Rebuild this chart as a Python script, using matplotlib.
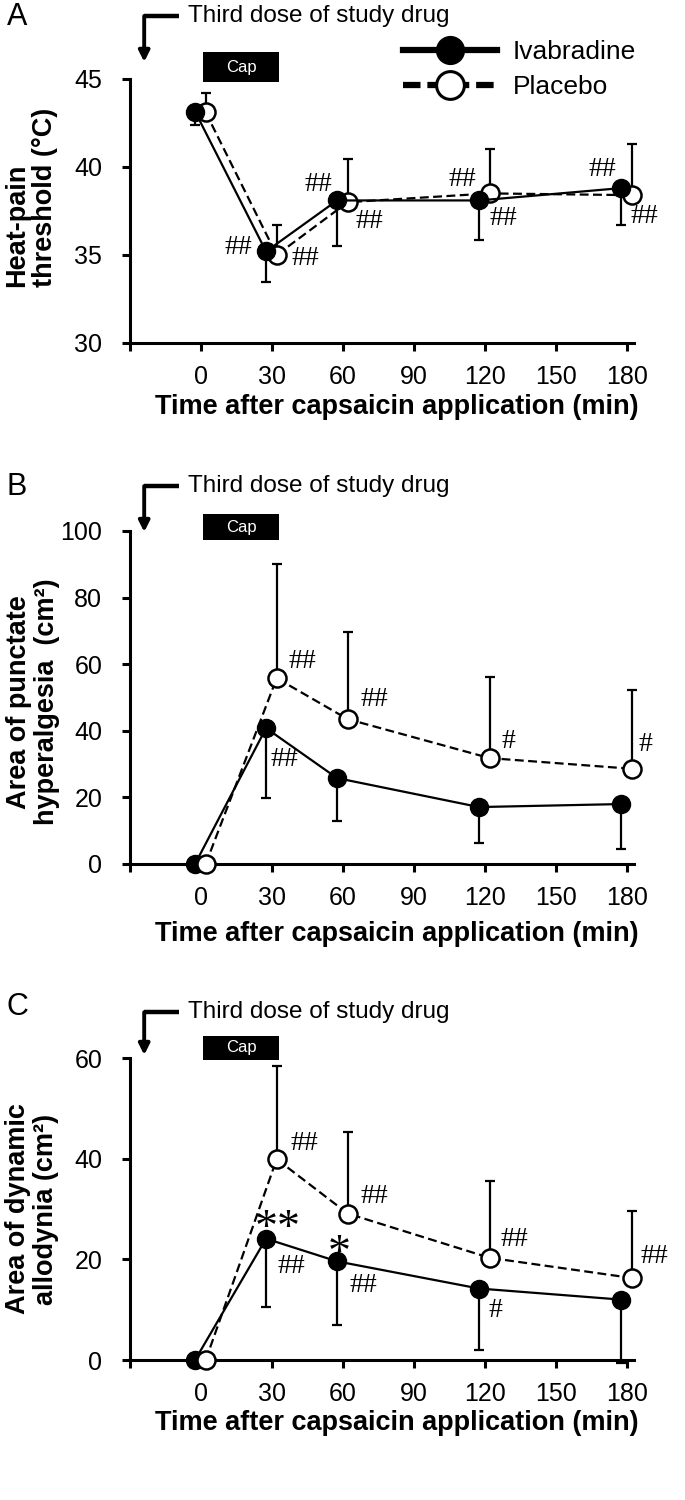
import matplotlib.pyplot as plt
from matplotlib.lines import Line2D
from matplotlib.patches import Rectangle

plt.rcParams['font.family'] = ['Liberation Sans', 'DejaVu Sans']

times = [0, 30, 60, 120, 180]
xticks = [-30, 0, 30, 60, 90, 120, 150, 180]
xticklabels = ['', '0', '30', '60', '90', '120', '150', '180']

# A: heat-pain threshold (°C)
a_ivab = [43.15, 35.2, 38.1, 38.1, 38.8]
a_ivab_err = [0.75, 1.75, 2.6, 2.25, 2.1]
a_plac = [43.1, 35.0, 38.0, 38.5, 38.4]
a_plac_err = [1.1, 1.7, 2.45, 2.5, 2.9]
a_marks = [('##', 15.8, 35.4), ('##', 44, 34.8), ('##', 49.5, 39.0), ('##', 71, 36.9),
           ('##', 110.4, 39.3), ('##', 128, 37.1), ('##', 169.8, 39.85), ('##', 187.4, 37.2)]

# B: area of punctate hyperalgesia (cm²)
b_ivab = [0, 40.8, 25.8, 17.1, 18.0]
b_ivab_err = [0, 21.0, 13.0, 10.8, 13.4]
b_plac = [0, 55.8, 43.5, 31.8, 28.6]
b_plac_err = [0, 34.2, 26.1, 24.5, 23.7]
b_marks = [('##', 42.7, 60.8), ('##', 35.3, 31.3), ('##', 73.3, 49.3),
           ('#', 129.9, 36.8), ('#', 188, 35.8)]

# C: area of dynamic allodynia (cm²)
c_ivab = [0, 24.1, 19.6, 14.2, 12.0]
c_ivab_err = [0, 13.5, 12.65, 12.2, 12.6]
c_plac = [0, 39.9, 29.1, 20.3, 16.3]
c_plac_err = [0, 18.6, 16.2, 15.3, 13.3]
c_marks = [('##', 43.6, 43.0), ('##', 38, 18.65), ('##', 73.3, 32.4), ('##', 68.6, 14.9),
           ('##', 132.3, 24.0), ('#', 124.3, 9.9), ('##', 191.6, 20.5)]
c_stars = [('**', 32.3, 23.6), ('*', 58.5, 18.7)]

W, H = 685, 1500
fig = plt.figure(figsize=(W / 100, H / 100), dpi=100)


def px_axes(left, top, right, bottom):
    return fig.add_axes([left / W, 1 - bottom / H, (right - left) / W, (bottom - top) / H])


def panel(ax, ivab, ivab_err, plac, plac_err, marks, ylim, yticks,
          arrow_y, tip_y, box_y, letter, letter_y, ylabel, ylabel_xy, ylabel_align,
          xlabel_y, plac_on_top=True):
    xi = [t - 2.5 for t in times]
    xp = [t + 2.0 for t in times]
    ax.errorbar(xi, ivab, yerr=[ivab_err, [0] * len(ivab)], fmt='none', ecolor='black',
                elinewidth=1.6, capsize=3.6, capthick=1.6, zorder=2, clip_on=False)
    ax.errorbar(xp, plac, yerr=[[0] * len(plac), plac_err], fmt='none', ecolor='black',
                elinewidth=1.6, capsize=3.6, capthick=1.6, zorder=2, clip_on=False)
    zi, zp = (3, 4) if plac_on_top else (4, 3)
    ax.plot(xi, ivab, '-', color='black', lw=1.6, marker='o', ms=13, mfc='black',
            mec='black', zorder=zi, clip_on=False)
    ax.plot(xp, plac, '--', color='black', lw=1.6, dashes=(4, 2), marker='o', ms=13,
            mfc='white', mec='black', mew=1.8, zorder=zp, clip_on=False)
    for txt, x, y in marks:
        ax.text(x, y, txt, family='Liberation Serif', fontsize=20, ha='center',
                va='center', clip_on=False)

    ax.set_xlim(-30, 183)
    ax.set_ylim(*ylim)
    ax.set_xticks(xticks)
    ax.set_xticklabels(xticklabels)
    ax.set_yticks(yticks)
    for s in ['top', 'right']:
        ax.spines[s].set_visible(False)
    for s in ['left', 'bottom']:
        ax.spines[s].set_linewidth(2.2)
    ax.tick_params(direction='out', length=6, width=2.2, labelsize=18)
    ax.tick_params(axis='x', pad=10)
    ax.tick_params(axis='y', pad=14)

    # dosing arrow
    ax.plot([-24, -9.3], [arrow_y, arrow_y], color='black', lw=3.2, clip_on=False,
            solid_capstyle='butt')
    ax.annotate('', xy=(-24, tip_y), xytext=(-24, arrow_y + 0.001),
                arrowprops=dict(arrowstyle='-|>', lw=2.8, color='black',
                                mutation_scale=16, shrinkA=0, shrinkB=0),
                annotation_clip=False)
    ax.text(-5.5, arrow_y, 'Third dose of study drug', fontsize=17.5, va='center',
            ha='left', clip_on=False)
    ax.add_patch(Rectangle((1, box_y[0]), 32, box_y[1] - box_y[0], facecolor='black',
                           edgecolor='none', clip_on=False))
    ax.text(17, (box_y[0] + box_y[1]) / 2, 'Cap', color='white', fontsize=12,
            ha='center', va='center', clip_on=False)

    fig.text(17 / W, 1 - letter_y / H, letter, fontsize=22, ha='center', va='center')
    fig.text(ylabel_xy[0] / W, 1 - ylabel_xy[1] / H, ylabel, rotation=90,
             fontsize=19.5, fontweight='bold', ha='center', va='center',
             multialignment=ylabel_align, linespacing=1.12)
    fig.text(397 / W, 1 - xlabel_y / H, 'Time after capsaicin application (min)',
             fontsize=19.5, fontweight='bold', ha='center', va='center')


ax_a = px_axes(130, 79, 634, 343)
panel(ax_a, a_ivab, a_ivab_err, a_plac, a_plac_err, a_marks, (30, 45), [30, 35, 40, 45],
      48.58, 45.97, (44.83, 46.53), 'A', 17, 'Heat-pain\nthreshold (°C)', (31, 197), 'left',
      407, plac_on_top=False)

handles = [Line2D([], [], color='black', lw=4.5, marker='o', ms=20, mfc='black'),
           Line2D([], [], color='black', lw=4.5, ls='--', dashes=(2.8, 1.1), marker='o', ms=20,
                  mfc='white', mec='black', mew=2.2)]
fig.legend(handles, ['Ivabradine', 'Placebo'], loc='upper left',
           bbox_to_anchor=(403 / W, 1 - 40 / H), frameon=False, fontsize=19,
           handlelength=3.55, handletextpad=0.6, labelspacing=0.42, borderpad=0,
           borderaxespad=0)

ax_b = px_axes(130, 531, 634, 864)
panel(ax_b, b_ivab, b_ivab_err, b_plac, b_plac_err, b_marks, (0, 100), range(0, 101, 20),
      113.5, 99.7, (97.3, 105.1), 'B', 487, 'Area of punctate\nhyperalgesia  (cm²)', (33, 702),
      'center', 934)

ax_c = px_axes(130, 1058, 634, 1360)
panel(ax_c, c_ivab, c_ivab_err, c_plac, c_plac_err, c_marks, (0, 60), [0, 20, 40, 60],
      69.1, 60.6, (59.6, 64.4), 'C', 1007, 'Area of dynamic\nallodynia (cm²)', (32, 1209),
      'center', 1423)
for txt, x, y in c_stars:
    ax_c.text(x, y, txt, family='Liberation Serif', fontsize=33, ha='center',
              va='baseline', clip_on=False)

fig.savefig('out.png', dpi=100)
